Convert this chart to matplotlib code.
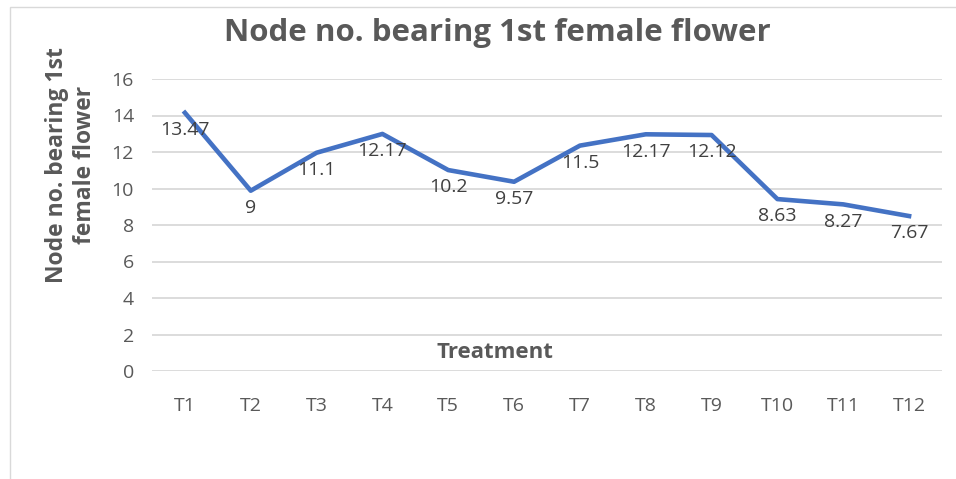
import matplotlib
matplotlib.use("Agg")
import matplotlib.pyplot as plt
from matplotlib.patches import Rectangle

categories = ["T1", "T2", "T3", "T4", "T5", "T6", "T7", "T8", "T9", "T10", "T11", "T12"]
label_values = [13.47, 9, 11.1, 12.17, 10.2, 9.57, 11.5, 12.17, 12.12, 8.63, 8.27, 7.67]
line_values = [14.15, 9.88, 11.96, 12.99, 11.01, 10.37, 12.35, 12.97, 12.93, 9.42, 9.13, 8.49]
y_ticks = [0, 2, 4, 6, 8, 10, 12, 14, 16]

plt.rcParams['font.family'] = ['Open Sans', 'DejaVu Sans']
W, H = 956, 479
fig = plt.figure(figsize=(W / 100, H / 100), dpi=100)
fig.patch.set_facecolor("white")

# chart border
fig.add_artist(Rectangle((10 / W, -0.1), 1.2, (H - 7) / H + 0.1, transform=fig.transFigure,
                         fill=False, edgecolor="#d9d9d9", linewidth=1.0))

ax = fig.add_axes([152 / W, 1 - 371 / H, (942 - 152) / W, (371 - 79) / H])
x = list(range(len(categories)))
ax.plot(x, line_values, color="#4472C4", linewidth=3.3, solid_joinstyle="round", zorder=3)
for xi, yi, lab in zip(x, line_values, label_values):
    ax.annotate(f"{lab:g}", (xi, yi), xytext=(0, -12.5), textcoords="offset points",
                ha="center", va="center", fontsize=14, color="#404040", zorder=4)

ax.set_xlim(-0.5, len(categories) - 0.5)
ax.set_ylim(0, 16)
ax.set_yticks(y_ticks)
ax.set_yticklabels([str(t) for t in y_ticks])
ax.set_xticks(x)
ax.set_xticklabels(categories)
ax.tick_params(axis="both", length=0, labelsize=14, labelcolor="#595959")
ax.tick_params(axis="x", pad=19)
ax.tick_params(axis="y", pad=13)
ax.grid(axis="y", color="#d9d9d9", linewidth=1.3)
ax.set_axisbelow(True)
for s in ax.spines.values():
    s.set_visible(False)

fig.text(497 / W, 1 - 33 / H, "Node no. bearing 1st female flower", ha="center", va="center",
         fontsize=22.5, fontweight="bold", color="#595959")
fig.text(495 / W, 1 - 352 / H, "Treatment", ha="center", va="center",
         fontsize=16, fontweight="bold", color="#595959")
fig.text(71 / W, 1 - 165 / H, "Node no. bearing 1st\nfemale flower", ha="center", va="center",
         rotation=90, fontsize=16.5, fontweight="bold", color="#595959", linespacing=1.2)

fig.savefig("out.png", dpi=100, facecolor="white")
